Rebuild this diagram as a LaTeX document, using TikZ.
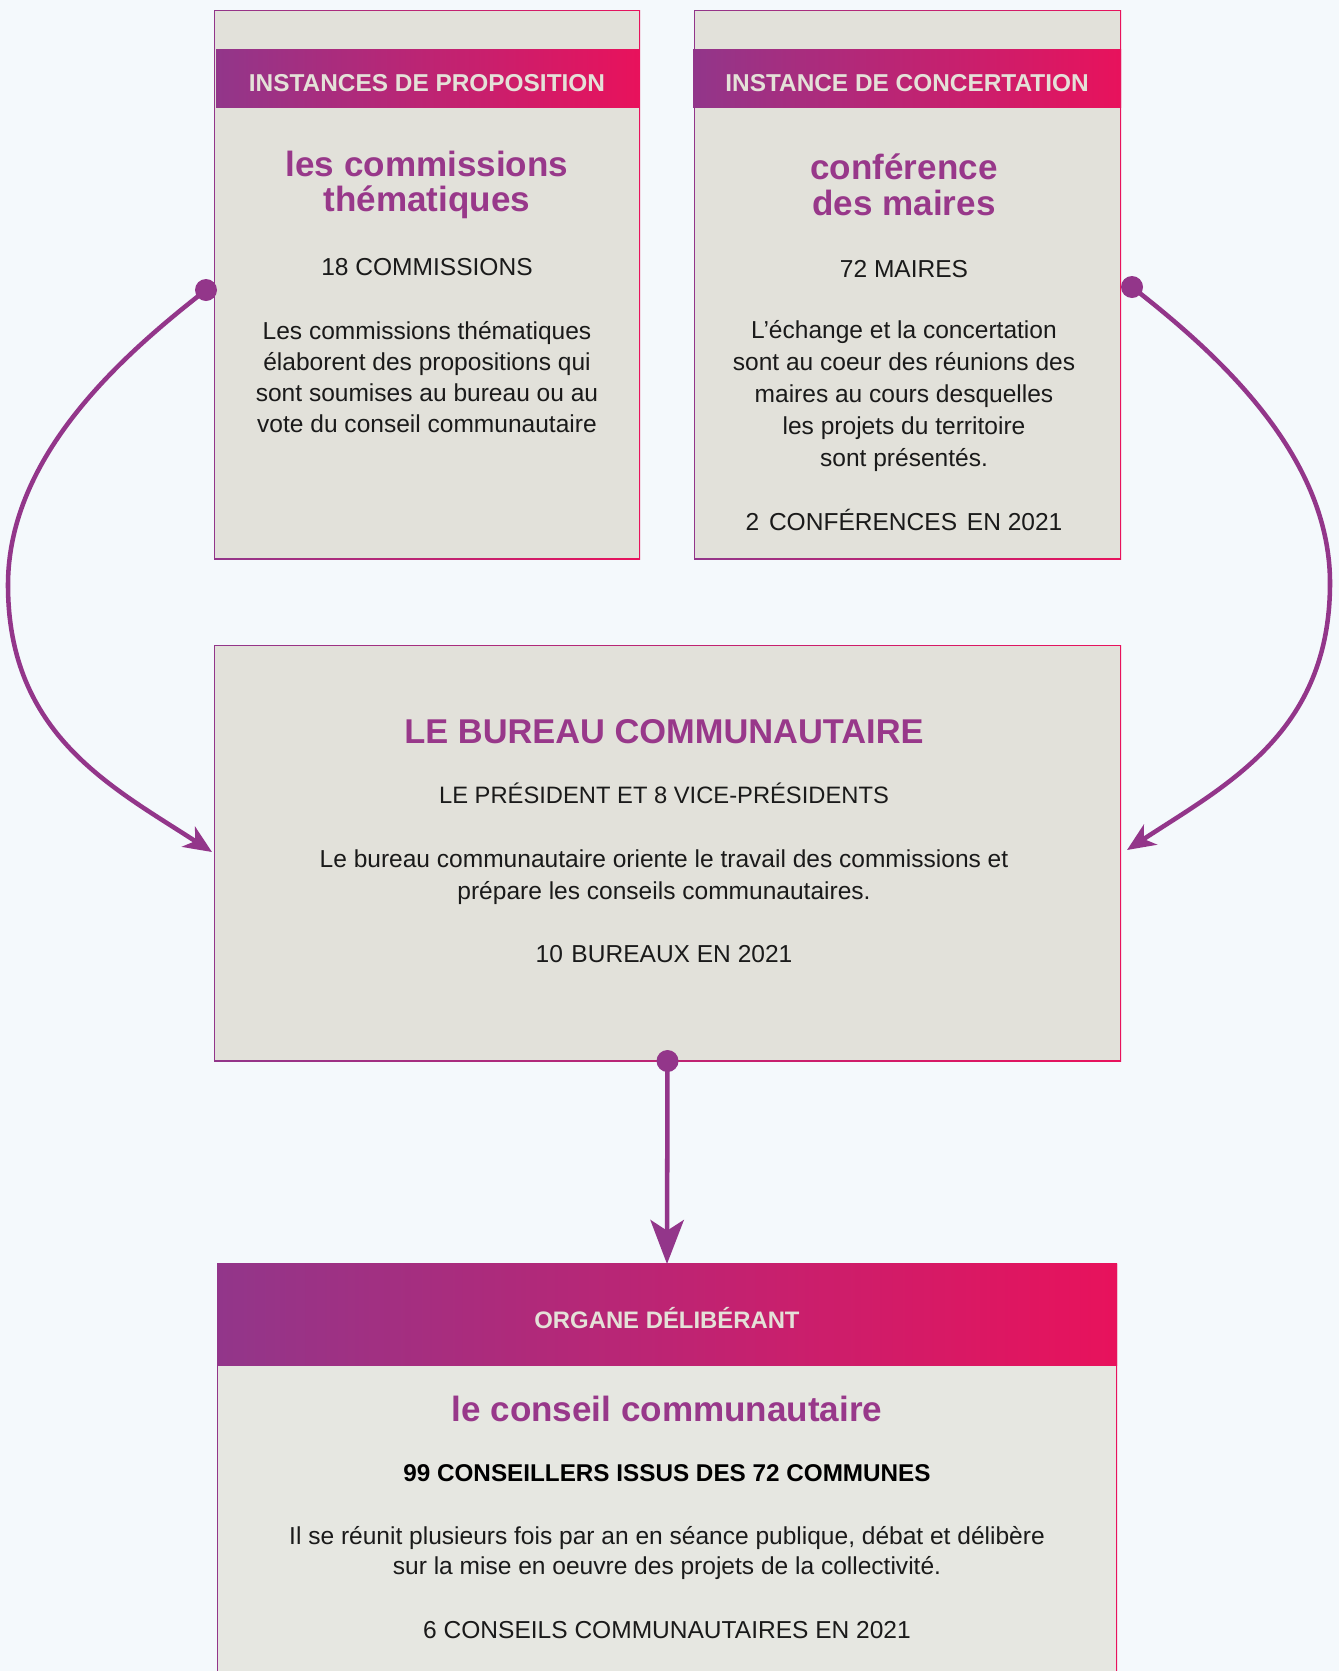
\documentclass[tikz,border=0pt]{standalone}
\usepackage{fontspec}
\setmainfont{Liberation Sans}
\usetikzlibrary{arrows.meta}
\definecolor{bg}{HTML}{F4F9FC}
\definecolor{boxfill}{HTML}{E2E1DA}
\definecolor{boxfillb}{HTML}{E6E7E1}
\definecolor{gpurple}{HTML}{92368A}
\definecolor{gpink}{HTML}{E8125C}
\definecolor{ptext}{HTML}{98388A}
\definecolor{htext}{HTML}{E4E1D8}
\definecolor{arrowc}{HTML}{93368A}
\definecolor{dtext}{HTML}{1A1A1A}
\tikzset{
  gbox/.style={rectangle, inner sep=0pt, outer sep=0pt, draw=none,
    left color=gpurple, right color=gpink,
    path picture={\fill[#1] ([xshift=1pt,yshift=-1pt]path picture bounding box.north west) rectangle ([xshift=-1pt,yshift=1pt]path picture bounding box.south east);}},
  hband/.style={rectangle, inner sep=0pt, outer sep=0pt, draw=none,
    left color=gpurple, right color=gpink},
  hdr/.style={anchor=base, inner sep=0pt, text=htext, font=\fontsize{18.3}{22}\selectfont\bfseries},
  ttl/.style={anchor=base, inner sep=0pt, text=ptext, align=center, font=\fontsize{26.3}{26.3}\selectfont\bfseries},
  cnt/.style={anchor=base, inner sep=0pt, text=dtext, font=\fontsize{18.4}{22}\selectfont},
  body/.style={anchor=base, inner sep=0pt, text=dtext, align=center, font=\fontsize{18.4}{23.6}\selectfont},
  dot/.style={circle, fill=arrowc, inner sep=0pt, minimum size=16.5pt},
  conn/.style={draw=arrowc, line width=3.4pt, -{Stealth[length=21pt,width=18pt,inset=6pt]}},
  vconn/.style={draw=arrowc, line width=3.4pt, -{Stealth[length=33pt,width=25pt,inset=8pt]}}
}
\begin{document}
\begin{tikzpicture}[x=0.75pt,y=-0.75pt]
\fill[bg] (0,0) rectangle (1339,1671);
\useasboundingbox (0,0) rectangle (1339,1671);

% boxes
\node[gbox=boxfill, minimum width=319.5pt, minimum height=411.75pt] (b1) at (427,284.5) {};
\node[gbox=boxfill, minimum width=320.25pt, minimum height=411.75pt] (b2) at (907.5,284.5) {};
\node[gbox=boxfill, minimum width=680.25pt, minimum height=312pt] (b3) at (667.5,853) {};
\node[gbox=boxfillb, minimum width=675pt, minimum height=309pt] (b4) at (667,1469) {};

% header bands
\node[hband, minimum width=317.25pt, minimum height=43.5pt] (h1) at (427.5,78) {};
\node[hband, minimum width=321pt, minimum height=43.5pt] (h2) at (907,78) {};
\node[hband, minimum width=675pt, minimum height=75.75pt] (h3) at (667,1314.5) {};

% box 1 texts (multi-line nodes: base = last line)
\node[hdr] (h1t) at (427,91) {INSTANCES DE PROPOSITION};
\node[ttl, font=\fontsize{26.3}{26.25}\selectfont\bfseries] (t1) at (427,211) {les commissions\\thématiques};
\node[cnt] (c1) at (427,275) {18 COMMISSIONS};
\node[body, font=\fontsize{18.4}{23.25}\selectfont] (d1) at (427,432) {Les commissions thématiques\\élaborent des propositions qui\\sont soumises au bureau ou au\\vote du conseil communautaire};

% box 2 texts
\node[hdr] (h2t) at (907,91) {INSTANCE DE CONCERTATION};
\node[ttl, font=\fontsize{26.3}{27}\selectfont\bfseries] (t2) at (904,215) {conférence\\des maires};
\node[cnt] (c2) at (904,277) {72 MAIRES};
\node[body, font=\fontsize{18.4}{23.85}\selectfont] (d2) at (904,466) {L’échange et la concertation\\sont au coeur des réunions des\\maires au cours desquelles\\les projets du territoire\\sont présentés.};
\node[cnt] (e2) at (904,530) {2\hspace{0.4em}CONFÉRENCES\hspace{0.4em}EN 2021};

% middle box texts
\node[anchor=base, inner sep=0pt, text=ptext, font=\fontsize{25.8}{28}\selectfont\bfseries] (t3) at (664,743) {LE BUREAU COMMUNAUTAIRE};
\node[anchor=base, inner sep=0pt, text=dtext, font=\fontsize{17.8}{22}\selectfont] (c3) at (664,803) {LE PRÉSIDENT ET 8 VICE-PRÉSIDENTS};
\node[body, font=\fontsize{18.4}{24}\selectfont] (d3) at (664,899) {Le bureau communautaire oriente le travail des commissions et\\prépare les conseils communautaires.};
\node[cnt] (e3) at (664,962) {10\hspace{0.35em}BUREAUX EN 2021};

% bottom box texts
\node[anchor=base, inner sep=0pt, text=htext, font=\fontsize{17.9}{22}\selectfont\bfseries] (h3t) at (667,1328) {ORGANE DÉLIBÉRANT};
\node[ttl] (t4) at (667,1421) {le conseil communautaire};
\node[anchor=base, inner sep=0pt, text=black, font=\fontsize{18.2}{22}\selectfont\bfseries] (c4) at (667,1481) {99 CONSEILLERS ISSUS DES 72 COMMUNES};
\node[body, font=\fontsize{18.4}{22.5}\selectfont] (d4) at (667,1574) {Il se réunit plusieurs fois par an en séance publique, débat et délibère\\sur la mise en oeuvre des projets de la collectivité.};
\node[cnt] (e4) at (667,1638) {6 CONSEILS COMMUNAUTAIRES EN 2021};

% connectors
\node[dot] (p1) at (206,290) {};
\coordinate (m1) at (8,585);
\coordinate (q1) at (212,852);
\draw[conn] (p1.center) .. controls (124,354) and (8,455) .. (m1) .. controls (8,735) and (112,787) .. (q1);

\node[dot] (p2) at (1132,287) {};
\coordinate (m2) at (1330,583);
\coordinate (q2) at (1127,850);
\draw[conn] (p2.center) .. controls (1214,351) and (1330,453) .. (m2) .. controls (1330,733) and (1226,785) .. (q2);

\node[dot] (p3) at (b3.south) {};
\draw[vconn] (p3.center) -- (h3.north);
\end{tikzpicture}
\end{document}
